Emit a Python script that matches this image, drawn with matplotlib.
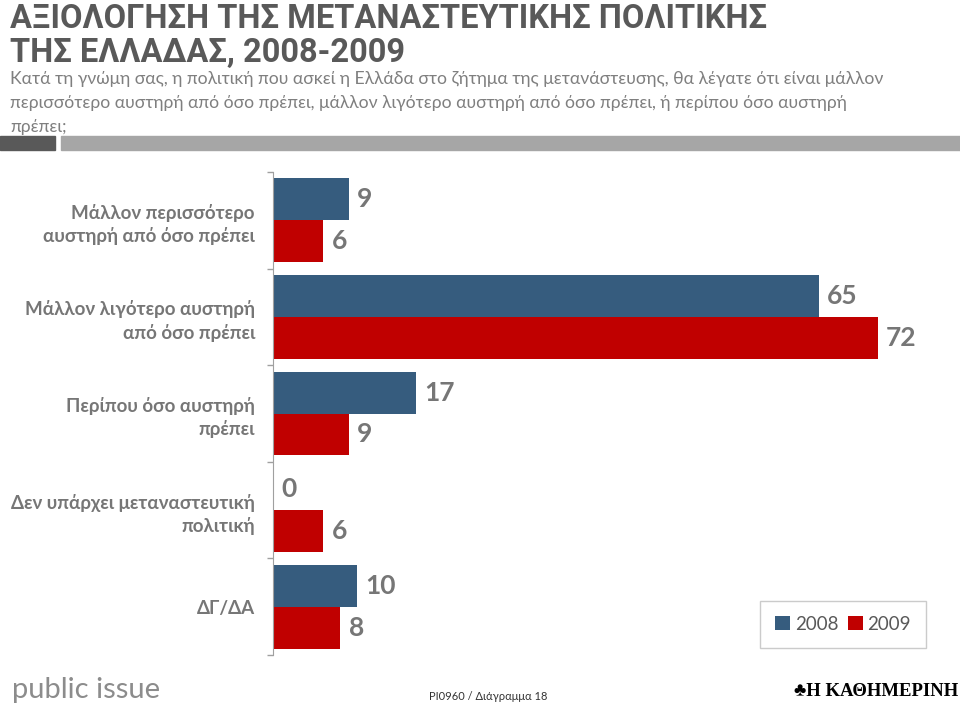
import matplotlib
matplotlib.use('Agg')
import matplotlib.pyplot as plt
from matplotlib.patches import Rectangle
import numpy as np

categories = ['Μάλλον περισσότερο\nαυστηρή από όσο πρέπει',
              'Μάλλον λιγότερο αυστηρή\nαπό όσο πρέπει',
              'Περίπου όσο αυστηρή\nπρέπει',
              'Δεν υπάρχει μεταναστευτική\nπολιτική',
              'ΔΓ/ΔΑ']
vals_2008 = [9, 65, 17, 0, 10]
vals_2009 = [6, 72, 9, 6, 8]
series_names = ['2008', '2009']

BLUE = '#365C7E'
RED = '#C00000'
GRAY = '#767676'
FONT = ['Lato', 'DejaVu Sans']
TITLE_FONT = ['Roboto', 'DejaVu Sans']

plt.rcParams['font.family'] = FONT

fig = plt.figure(figsize=(9.6, 7.05), dpi=100)
W, H = 960, 705

# title block
fig.text(10 / W, 1 - 15 / H, 'ΑΞΙΟΛΟΓΗΣΗ ΤΗΣ ΜΕΤΑΝΑΣΤΕΥΤΙΚΗΣ ΠΟΛΙΤΙΚΗΣ',
         family=TITLE_FONT, weight='bold', fontsize=23.5, color='#595959', va='center_baseline')
fig.text(10 / W, 1 - 49 / H, 'ΤΗΣ ΕΛΛΑΔΑΣ, 2008-2009',
         family=TITLE_FONT, weight='bold', fontsize=23.5, color='#595959', va='center_baseline')
subtitle = ['Κατά τη γνώμη σας, η πολιτική που ασκεί η Ελλάδα στο ζήτημα της μετανάστευσης, θα λέγατε ότι είναι μάλλον',
            'περισσότερο αυστηρή από όσο πρέπει, μάλλον λιγότερο αυστηρή από όσο πρέπει, ή περίπου όσο αυστηρή',
            'πρέπει;']
for i, line in enumerate(subtitle):
    fig.text(10 / W, 1 - (79 + 24 * i) / H, line,
             fontsize=12.65, color='#7f7f7f', va='center')

fig.patches.append(Rectangle((0, 1 - 150 / H), 55 / W, 14 / H, transform=fig.transFigure,
                             color='#595959', zorder=0))
fig.patches.append(Rectangle((61 / W, 1 - 150 / H), 1 - 61 / W, 14 / H, transform=fig.transFigure,
                             color='#a6a6a6', zorder=0))

# chart
ax = fig.add_axes([273 / W, 50 / H, 1 - 273 / W, 483 / H])
y = np.arange(len(categories))
h = 0.433
b1 = ax.barh(y - h / 2, vals_2008, height=h, color=BLUE, label=series_names[0])
b2 = ax.barh(y + h / 2, vals_2009, height=h, color=RED, label=series_names[1])

for bars, vals in ((b1, vals_2008), (b2, vals_2009)):
    for bar, v in zip(bars, vals):
        ax.annotate(str(v), (v, bar.get_y() + bar.get_height() / 2),
                    xytext=(6, 0), textcoords='offset points', va='center', ha='left',
                    fontsize=19, weight='bold', color=GRAY)

ax.set_xlim(0, 81.8)
ax.set_ylim(len(categories) - 0.5, -0.5)
ax.set_xticks([])
ax.set_yticks(y)
ax.set_yticklabels(categories, fontsize=13.5, color=GRAY, weight='bold', linespacing=1.35)
ax.tick_params(axis='y', which='major', length=0, pad=13)
ax.set_yticks(np.arange(-0.5, len(categories)), minor=True)
ax.tick_params(axis='y', which='minor', length=4, color='#a0a0a0', width=1)
for s in ['top', 'right', 'bottom']:
    ax.spines[s].set_visible(False)
ax.spines['left'].set_color('#a0a0a0')

leg = fig.legend(loc='center', bbox_to_anchor=(843 / W, 1 - 624 / H), ncol=2,
                 frameon=True, fancybox=False, handlelength=0.8, handleheight=0.8,
                 handletextpad=0.25, columnspacing=0.5, borderpad=0.8,
                 prop={'size': 13.5})
leg.get_frame().set_edgecolor('#bfbfbf')
for t in leg.get_texts():
    t.set_color('#595959')

# footer
fig.text(12 / W, 1 - 690 / H, 'public issue', fontsize=21, color='#8c8c8c', va='center')
fig.text(488 / W, 1 - 697 / H, 'PI0960 / Διάγραμμα 18', fontsize=8,
         color='#333333', va='center', ha='center')
fig.text(958 / W, 1 - 692 / H, '\u2663Η ΚΑΘΗΜΕΡΙΝΗ', family=['Liberation Serif', 'DejaVu Sans'],
         fontsize=13.5, weight='bold', color='black', va='center', ha='right')

fig.savefig('out.png', dpi=100)
